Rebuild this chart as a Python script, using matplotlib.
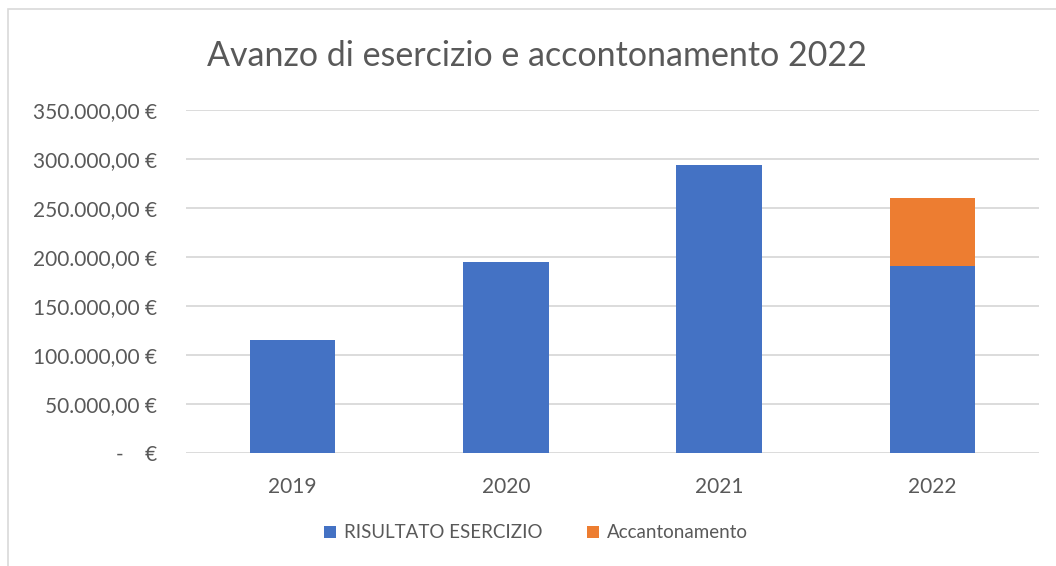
import matplotlib
matplotlib.use("Agg")
from matplotlib import pyplot as plt
from matplotlib.patches import Rectangle
import numpy as np

years = ["2019", "2020", "2021", "2022"]
risultato = [115300, 194900, 293900, 191300]
accantonamento = [0, 0, 0, 68900]
ticks = [0, 50000, 100000, 150000, 200000, 250000, 300000, 350000]


def euro(v):
    if v == 0:
        return "-    €"
    s = f"{v:,.2f}".replace(",", "X").replace(".", ",").replace("X", ".")
    return s + " €"


plt.rcParams['font.family'] = ['Lato', 'DejaVu Sans']
text_color = "#595959"
grid_color = "#d9d9d9"

fig = plt.figure(figsize=(10.56, 5.66), dpi=100)
fig.patches.append(Rectangle((8 / 1056, -0.05), 1.1, 1 - 9 / 566 + 0.05, transform=fig.transFigure,
                             fill=False, edgecolor=grid_color, linewidth=1.2))

ax = fig.add_axes([186 / 1056, 1 - 453 / 566, (1039 - 186) / 1056, (453 - 110) / 566])
x = np.arange(len(years))
ax.bar(x, risultato, width=0.4, color="#4472c4", label="RISULTATO ESERCIZIO", zorder=3)
ax.bar(x, accantonamento, width=0.4, bottom=risultato, color="#ed7d31", label="Accantonamento", zorder=3)

ax.set_xlim(-0.5, len(years) - 0.5)
ax.set_ylim(0, 350000)
ax.set_yticks(ticks)
ax.set_yticklabels([euro(t) for t in ticks])
ax.set_xticks(x)
ax.set_xticklabels(years)
ax.tick_params(axis='both', length=0, colors=text_color, labelsize=15)
ax.tick_params(axis='y', pad=21)
ax.tick_params(axis='x', pad=17)
ax.grid(axis='y', color=grid_color, linewidth=1.3, zorder=0)
for s in ax.spines.values():
    s.set_visible(False)

fig.text(537 / 1056, 1 - 56 / 566, "Avanzo di esercizio e accontonamento 2022", ha='center', va='center',
         fontsize=24.5, color=text_color)

ax.legend(loc='center', bbox_to_anchor=((536 - 186) / 853, -(533 - 453) / 343), ncol=2, frameon=False,
          fontsize=13.5, handlelength=0.65, handleheight=0.65, handletextpad=0.4, columnspacing=2.4,
          labelcolor=text_color)

fig.savefig("out.png", dpi=100)
